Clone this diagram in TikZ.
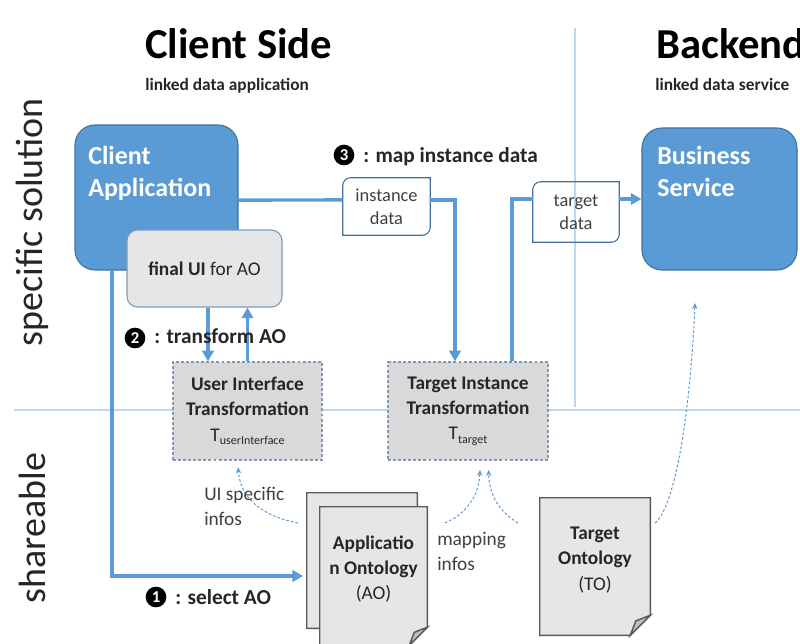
\documentclass[tikz,border=0pt]{standalone}
\usepackage{fontspec}
\setmainfont{Carlito}
\usetikzlibrary{arrows.meta,calc}

\definecolor{accent}{HTML}{5B9BD5}
\definecolor{accentdark}{HTML}{41719C}
\definecolor{sepline}{HTML}{BDD7EE}
\definecolor{boxgray}{HTML}{E7E6E6}
\definecolor{transgray}{HTML}{D9D9D9}
\definecolor{dashedge}{HTML}{8497B0}
\definecolor{pagegray}{HTML}{E6E6E6}
\definecolor{pageedge}{HTML}{595959}
\definecolor{foldgray}{HTML}{BFBFBF}
\definecolor{txtgray}{HTML}{404040}
\definecolor{txtdark}{HTML}{262626}

\newcommand\fs[2]{\fontsize{#1}{#2}\selectfont}
% outline of a box with rounded top-left and bottom-right corners
\newcommand\diagoutline[1]{%
  \draw[dataedge] ([yshift=-6pt]#1.north west) arc[start angle=180,end angle=90,radius=6pt]
    -- (#1.north east) -- ([yshift=6pt]#1.south east)
    arc[start angle=0,end angle=-90,radius=6pt] -- (#1.south west) -- cycle;}
% sheet of paper with a folded bottom-right corner
\newcommand\sheet[2]{%
  \filldraw[page] (#1.north west) -- (#1.north east) -- ([yshift=#2]#1.south east)
    -- ([xshift=-#2]#1.south east) -- (#1.south west) -- cycle;}
\newcommand\sheetfold[2]{%
  \filldraw[page, fill=foldgray] ([yshift=#2]#1.south east)
    -- ([xshift=-0.72*#2,yshift=0.72*#2]#1.south east) -- ([xshift=-#2]#1.south east) -- cycle;}

\begin{document}
\begin{tikzpicture}[x=0.75pt,y=-0.75pt,
  sep/.style={draw=sepline, line width=1.1pt},
  blockbox/.style={draw=accentdark, line width=0.8pt, fill=accent, rounded corners=15pt, inner sep=0pt},
  blocktext/.style={inner sep=0pt, align=left, text=white, font=\bfseries\fs{19.5}{24}},
  uibox/.style={draw=accentdark!70, line width=0.8pt, fill=boxgray, rounded corners=8pt,
    inner sep=0pt, align=center, text=txtdark, font=\fs{14.5}{19}},
  transbox/.style={draw=dashedge, line width=0.9pt, dash pattern=on 2.2pt off 1.6pt,
    fill=transgray, inner sep=0pt, align=center, text=txtdark, font=\fs{14.5}{19}},
  datanode/.style={inner sep=0pt, align=center, text=txtgray, font=\fs{13.8}{17.5}},
  dataedge/.style={draw=accentdark, line width=0.8pt},
  flow/.style={draw=accent, line width=2.6pt},
  flowtip/.style={-{Triangle[length=8pt,width=8.5pt]}},
  hint/.style={draw=accent, line width=0.75pt, dash pattern=on 2pt off 1.5pt,
    -{Stealth[length=4.5pt,width=4pt]}},
  page/.style={draw=pageedge, line width=1.1pt, fill=pagegray},
  pagetext/.style={inner sep=0pt, align=center, text=txtdark, font=\fs{14.5}{19}},
  numdot/.style={circle, fill=black, text=white, inner sep=0pt, minimum size=15.5pt,
    font=\bfseries\fs{12.5}{13}},
  steptext/.style={anchor=base west, inner sep=0pt, text=txtdark, font=\bfseries\fs{16}{19}},
  side/.style={rotate=90, inner sep=0pt, text=txtdark, font=\fs{28.5}{32}},
  note/.style={anchor=north west, inner sep=0pt, align=left, text=txtgray, font=\fs{14.5}{19}}
]
\clip (0,0) rectangle (800,643);
\path[use as bounding box] (0,0) rectangle (800,643);

% lane separators
\draw[sep] (14,410) -- (800,410);
\draw[sep] (575,28) -- (575,407);

% headings
\node[anchor=base west, inner sep=0pt, font=\bfseries\fs{32}{38}] (clientside) at (145,58) {Client Side};
\node[anchor=base west, inner sep=0pt, text=txtdark, font=\bfseries\fs{13}{15}] (clientsub) at (145,90) {linked data application};
\node[anchor=base west, inner sep=0pt, font=\bfseries\fs{32}{38}] (backend) at (656,58) {Backend};
\node[anchor=base west, inner sep=0pt, text=txtdark, font=\bfseries\fs{13}{15}] (backsub) at (655,90) {linked data service};

% lane titles
\node[side] (specsol) at (32,222) {specific solution};
\node[side] (shareable) at (32,528) {shareable};

% client application and its UI
\node[blockbox, minimum width=122.25pt, minimum height=108.75pt] (cliapp) at (156.5,197.5) {};
\node[blocktext, anchor=north west] (cliapptxt) at (88,146) {Client\\Application};
\node[uibox, minimum width=116.25pt, minimum height=57.75pt] (finalui) at (204.5,268.5) {\textbf{final UI} for AO};

% business service
\node[blockbox, minimum width=116.25pt, minimum height=106.5pt] (bizsvc) at (719.5,199) {};
\node[blocktext, anchor=north west] (bizsvctxt) at (657,146) {Business\\Service};

% data boxes
\node[datanode, minimum width=65.25pt, minimum height=42.75pt] (instdata) at (386.5,206.5) {instance\\data};
\diagoutline{instdata}
\node[datanode, minimum width=64.5pt, minimum height=45pt] (tgtdata) at (576,212) {target\\data};
\diagoutline{tgtdata}

% transformations
\node[transbox, minimum width=111.75pt, minimum height=73.5pt] (uitrans) at (247.5,411)
  {\textbf{User Interface}\\\textbf{Transformation}\\T\raisebox{-0.4ex}{\fs{9}{9}userInterface}};
\node[transbox, minimum width=120pt, minimum height=73.5pt] (tgttrans) at (468,411)
  {\textbf{Target Instance}\\\textbf{Transformation}\\T\raisebox{-0.4ex}{\fs{9}{9}target}};

% ontologies
\node[minimum width=82.5pt, minimum height=101.25pt, inner sep=0pt] (aoback) at (362,560.5) {};
\sheet{aoback}{13.5pt}
\node[minimum width=80.25pt, minimum height=103.5pt, inner sep=0pt] (ao) at (373.5,576) {};
\sheet{ao}{13.5pt}
\sheetfold{ao}{13.5pt}
\node[pagetext] (aotxt) at (373.5,569) {\textbf{Applicatio}\\\textbf{n Ontology}\\(AO)};

\node[minimum width=82.5pt, minimum height=102.75pt, inner sep=0pt] (to) at (595,566.5) {};
\sheet{to}{15pt}
\sheetfold{to}{15pt}
\node[pagetext] (totxt) at (595,560) {\textbf{Target}\\\textbf{Ontology}\\(TO)};

% main flow
\draw[flow] ([yshift=-1.9pt]cliapp.east) -- ([yshift=4.9pt]instdata.west);
\draw[flow,flowtip] ([yshift=4.9pt]instdata.east) -| ([xshift=-9.75pt]tgttrans.north);
\draw[flow] ([xshift=33pt]tgttrans.north) |- ([yshift=9.75pt]tgtdata.west);
\draw[flow,flowtip] ([yshift=9.75pt]tgtdata.east) -- (bizsvc.west);
\draw[flow,flowtip] ([xshift=2.6pt]finalui.south) -- ([xshift=2.6pt]finalui.south |- uitrans.north);
\draw[flow,flowtip] (uitrans.north) -- (uitrans.north |- finalui.south);
\draw[flow,flowtip,shorten >=12.5pt] ([xshift=-33.4pt]cliapp.south) |- (ao.west);

% step labels
\node[numdot] (n3) at (344,155) {3};
\node[steptext] (n3txt) at (363,162) {: map instance data};
\node[numdot] (n2) at (135,338) {2};
\node[steptext] (n2txt) at (154,343) {: transform AO};
\node[numdot] (n1) at (156,597) {1};
\node[steptext] (n1txt) at (175,604) {: select AO};

% information hints
\coordinate (uiinfo) at (298,523);
\coordinate (mapa) at (445,523);
\coordinate (mapb) at (518,523);
\coordinate (toinfo) at (655,523);
\coordinate (svcin) at (695,303);
\draw[hint] (uiinfo) .. controls (262,516) and (240,498) .. ([xshift=-7pt,yshift=-5pt]uitrans.south);
\draw[hint] (mapa) .. controls (466,514) and (479,496) .. ([xshift=9pt,yshift=-7pt]tgttrans.south);
\draw[hint] (mapb) .. controls (500,512) and (489,496) .. ([xshift=15.5pt,yshift=-7pt]tgttrans.south);
\draw[hint] (toinfo) .. controls (674,508) and (690,420) .. (svcin);
\node[note] (uiinfotxt) at (204,487) {UI specific\\infos};
\node[note] (mapinfotxt) at (437,532) {mapping\\infos};
\end{tikzpicture}
\end{document}
